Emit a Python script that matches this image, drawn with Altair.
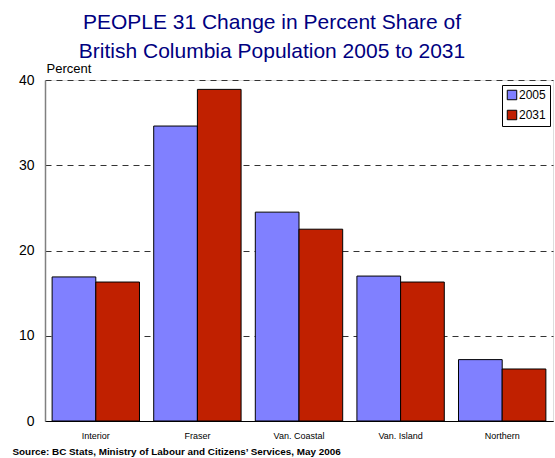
import altair as alt
import pandas as pd

regions = ["Interior", "Fraser", "Van. Coastal", "Van. Island", "Northern"]
share_2005 = [16.9, 34.6, 24.5, 17.0, 7.2]
share_2031 = [16.3, 38.9, 22.5, 16.3, 6.1]
years = ["2005", "2031"]
y_ticks = [0, 10, 20, 30, 40]

rows = []
for r, a, b in zip(regions, share_2005, share_2031):
    rows.append({"Region": r, "Year": years[0], "Share": a})
    rows.append({"Region": r, "Year": years[1], "Share": b})
df = pd.DataFrame(rows)

FONT = "Liberation Sans"

chart = (
    alt.Chart(df)
    .mark_bar(stroke="black", strokeWidth=1)
    .encode(
        x=alt.X(
            "Region:N",
            sort=regions,
            scale=alt.Scale(paddingInner=0.14, paddingOuter=0.07),
            axis=alt.Axis(
                title="Source: BC Stats, Ministry of Labour and Citizens\u2019 Services, May 2006",
                titleAnchor="start",
                titleAlign="left",
                titleX=-33,
                titleY=33,
                titleBaseline="alphabetic",
                titleFont=FONT,
                titleFontSize=9.9,
                titleFontWeight="bold",
                titleColor="black",
                labelAngle=0,
                labelFont=FONT,
                labelFontSize=9,
                labelColor="black",
                labelPadding=10,
                ticks=False,
                domainColor="black",
                domainWidth=1,
                grid=False,
            ),
        ),
        xOffset=alt.XOffset("Year:N", sort=years),
        y=alt.Y(
            "Share:Q",
            scale=alt.Scale(domain=[0, 40], nice=False),
            axis=alt.Axis(
                values=y_ticks,
                title="Percent",
                titleAngle=0,
                titleX=1,
                titleY=-8,
                titleAlign="left",
                titleBaseline="alphabetic",
                titleFont=FONT,
                titleFontSize=13,
                titleFontWeight="normal",
                titleColor="black",
                labelFont=FONT,
                labelFontSize=14,
                labelColor="black",
                labelPadding=11,
                ticks=False,
                domainColor="#808080",
                domainWidth=1.5,
                grid=True,
                gridColor="#333333",
                gridDash=[6, 5],
                gridWidth=1,
            ),
        ),
        color=alt.Color(
            "Year:N",
            sort=years,
            scale=alt.Scale(domain=years, range=["#8080FF", "#C02000"]),
            legend=alt.Legend(
                title=None,
                orient="none",
                legendX=457,
                legendY=5,
                strokeColor="black",
                fillColor="white",
                padding=4,
                symbolType="square",
                symbolSize=90,
                symbolStrokeColor="black",
                symbolStrokeWidth=1,
                labelFont=FONT,
                labelFontSize=12,
                labelColor="black",
                labelOffset=1,
                rowPadding=6,
            ),
        ),
    )
    .properties(
        width=508,
        height=341,
        padding={"left": 45, "top": 80, "right": 2, "bottom": 37},
        autosize=alt.AutoSizeParams(type="none"),
        title=alt.TitleParams(
            text=["PEOPLE 31 Change in Percent Share of", "British Columbia Population 2005 to 2031"],
            font=FONT,
            fontSize=21,
            fontWeight="normal",
            color="#000080",
            anchor="middle",
            lineHeight=29,
            dx=-27,
            offset=0,
        ),
    )
    .configure_view(stroke="#808080", strokeWidth=1)
    .configure(background="white")
)

chart.save("out.html", embed_options={"renderer": "svg", "actions": False})
